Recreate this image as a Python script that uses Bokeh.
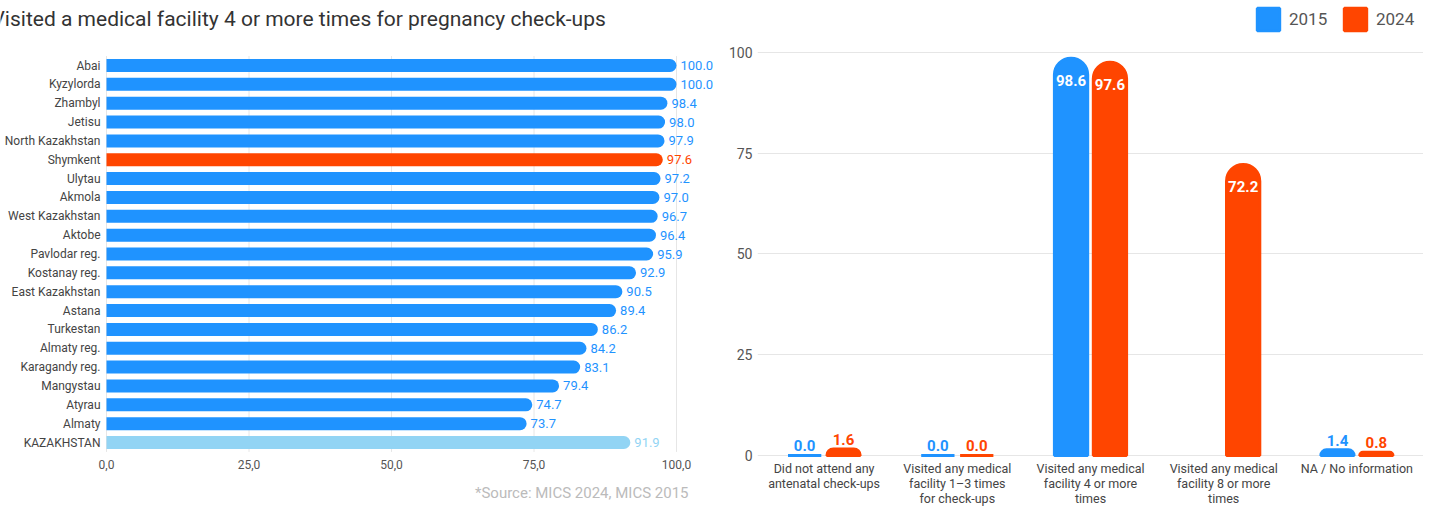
import numpy as np
from bokeh.plotting import figure
from bokeh.models import (ColumnDataSource, FixedTicker, Legend, LegendItem, Label,
                          Range1d, FactorRange, Title)
from bokeh.layouts import row
from bokeh.transform import dodge
from bokeh.core.properties import value
from bokeh.embed import file_html
from bokeh.resources import INLINE

# ---------------- data ----------------
title_text = "Visited a medical facility 4 or more times for pregnancy check-ups"
source_text = "*Source: MICS 2024, MICS 2015"

regions = ["Abai", "Kyzylorda", "Zhambyl", "Jetisu", "North Kazakhstan", "Shymkent",
           "Ulytau", "Akmola", "West Kazakhstan", "Aktobe", "Pavlodar reg.",
           "Kostanay reg.", "East Kazakhstan", "Astana", "Turkestan", "Almaty reg.",
           "Karagandy reg.", "Mangystau", "Atyrau", "Almaty", "KAZAKHSTAN"]
region_values = [100.0, 100.0, 98.4, 98.0, 97.9, 97.6, 97.2, 97.0, 96.7, 96.4, 95.9,
                 92.9, 90.5, 89.4, 86.2, 84.2, 83.1, 79.4, 74.7, 73.7, 91.9]
highlight_region = "Shymkent"
total_region = "KAZAKHSTAN"

x_ticks = [0, 25, 50, 75, 100]
x_tick_labels = ["0,0", "25,0", "50,0", "75,0", "100,0"]

categories = ["Did not attend any\nantenatal check-ups",
              "Visited any medical\nfacility 1\u20133 times\nfor check-ups",
              "Visited any medical\nfacility 4 or more\ntimes",
              "Visited any medical\nfacility 8 or more\ntimes",
              "NA / No information"]
years = ["2015", "2024"]
values_2015 = [0.0, 0.0, 98.6, np.nan, 1.4]
values_2024 = [1.6, 0.0, 97.6, 72.2, 0.8]
y_ticks = [0, 25, 50, 75, 100]

# ---------------- style ----------------
FONT = "Roboto"
BLUE = "#1F93FF"
ORANGE = "#FF4500"
LIGHT = "#92D4F4"
GRID = "#E6E6E6"
TICK = "#555555"

# ---------------- left chart ----------------
n = len(regions)
PX_X = 5.7        # pixels per percentage point
PX_Y = 18.85      # pixels per bar row
LEFT_W = 722
FRAME_H = 455
ORIGIN_X = 106    # pixel position of 0 on the left chart
FIRST_ROW_Y = 65  # pixel position of first bar centre

colors = [ORANGE if r == highlight_region else LIGHT if r == total_region else BLUE
          for r in regions]
ypos = list(range(n))
src = ColumnDataSource(dict(region=regions, y=ypos, val=region_values, color=colors,
                            zero=[0] * n, label=[f"{v:.1f}" for v in region_values]))

p1 = figure(x_range=Range1d(-ORIGIN_X / PX_X, (LEFT_W - ORIGIN_X) / PX_X),
            y_range=Range1d((FRAME_H - FIRST_ROW_Y) / PX_Y, -FIRST_ROW_Y / PX_Y),
            frame_width=LEFT_W, frame_height=FRAME_H,
            min_border_left=0, min_border_right=0, min_border_top=0, min_border_bottom=50,
            output_backend="svg", toolbar_location=None, title=None,
            y_axis_location=None)
p1.xgrid.grid_line_color = None
p1.ygrid.grid_line_color = None
p1.outline_line_color = None

# grid lines limited to the bar area
p1.segment(x0=x_ticks, x1=x_ticks, y0=[-0.5] * len(x_ticks), y1=[n - 0.5] * len(x_ticks),
           line_color=GRID, line_width=1)
p1.hbar(y="y", left=0, right="val", height=0.69, fill_color="color",
        line_color=None, source=src, border_radius=(0, 7, 7, 0))
p1.text(x="val", y="y", text="label", source=src, x_offset=4,
        text_baseline="middle", text_align="left", text_color="color",
        text_font=value(FONT), text_font_size="13px")
p1.text(x="zero", y="y", text="region", source=src, x_offset=-6,
        text_baseline="middle", text_align="right", text_color="#444444",
        text_font=value(FONT), text_font_size="12px")

p1.add_layout(Label(x=-9, y=FRAME_H - 18, x_units="screen", y_units="screen",
                    text=title_text, text_font=FONT, text_font_size="21px",
                    text_color="#333333", text_baseline="middle", text_align="left"))

p1.xaxis.ticker = FixedTicker(ticks=x_ticks)
p1.xaxis.major_label_overrides = dict(zip(x_ticks, x_tick_labels))
ax = p1.xaxis[0]
ax.axis_line_color = None
ax.major_tick_line_color = None
ax.minor_tick_line_color = None
ax.major_tick_out = 0
ax.major_tick_in = 0
ax.major_label_text_font = FONT
ax.major_label_text_color = TICK
ax.major_label_text_font_size = "12px"
ax.major_label_standoff = 4

p1.add_layout(Title(text=source_text, align="right", offset=34, standoff=21,
                    text_font=FONT, text_font_size="15px", text_font_style="normal",
                    text_color="#BBBBBB"), "below")

# ---------------- right chart ----------------
PX_V = 4.03       # pixels per percentage point
ZERO_Y = 455      # pixel position of 0 on the right chart
p2 = figure(x_range=FactorRange(*categories), y_range=Range1d(-0.5, ZERO_Y / PX_V),
            frame_width=666, frame_height=457,
            min_border_left=35, min_border_right=0, min_border_top=0, min_border_bottom=48,
            output_backend="svg", toolbar_location=None, title=None)

series = [(values_2015, BLUE, -0.146), (values_2024, ORANGE, 0.146)]
renderers = []
for vals, col, off in series:
    s = ColumnDataSource(dict(cat=categories, val=vals))
    r = p2.vbar(x=dodge("cat", off, range=p2.x_range), top="val", bottom=0, width=0.25,
                fill_color=col, line_color=col, line_width=3, source=s,
                border_radius=(18, 18, 0, 0))
    renderers.append(r)
    keep = [i for i, v in enumerate(vals) if not np.isnan(v)]
    inside = [i for i in keep if vals[i] > 10]
    above = [i for i in keep if vals[i] <= 10]
    s_in = ColumnDataSource(dict(cat=[categories[i] for i in inside],
                                 val=[vals[i] for i in inside],
                                 label=[f"{vals[i]:.1f}" for i in inside]))
    s_ab = ColumnDataSource(dict(cat=[categories[i] for i in above],
                                 val=[vals[i] for i in above],
                                 label=[f"{vals[i]:.1f}" for i in above]))
    p2.text(x=dodge("cat", off, range=p2.x_range), y="val", text="label", source=s_in,
            y_offset=22, text_align="center", text_baseline="middle", text_color="white",
            text_font=value(FONT), text_font_size="15px", text_font_style="bold")
    p2.text(x=dodge("cat", off, range=p2.x_range), y="val", text="label", source=s_ab,
            y_offset=-4, text_align="center", text_baseline="bottom", text_color=col,
            text_font=value(FONT), text_font_size="15px", text_font_style="bold")

legend = Legend(items=[LegendItem(label=years[0], renderers=[renderers[0]]),
                       LegendItem(label=years[1], renderers=[renderers[1]])],
                orientation="horizontal", location="top_right", margin=5, padding=0,
                spacing=10, glyph_width=28, glyph_height=28, label_width=42,
                label_standoff=7, label_text_font=FONT, label_text_font_size="17px",
                label_text_color=TICK, border_line_color=None, background_fill_alpha=0)
p2.add_layout(legend)

p2.yaxis.ticker = FixedTicker(ticks=y_ticks)
for a in (p2.xaxis[0], p2.yaxis[0]):
    a.axis_line_color = None
    a.major_tick_line_color = None
    a.minor_tick_line_color = None
    a.major_tick_out = 0
    a.major_tick_in = 0
    a.major_label_text_font = FONT
    a.major_label_text_color = TICK
p2.yaxis.major_label_text_font_size = "14px"
p2.yaxis.major_label_standoff = 5
p2.xaxis.major_label_text_font_size = "12.5px"
p2.xaxis.major_label_text_color = "#444444"
p2.xaxis.major_label_text_line_height = 1.0
p2.xaxis.major_label_standoff = 3
p2.xgrid.grid_line_color = None
p2.ygrid.ticker = FixedTicker(ticks=y_ticks)
p2.ygrid.grid_line_color = GRID
p2.outline_line_color = None

layout = row(p1, p2)
open("out.html", "w").write(file_html(layout, INLINE))
